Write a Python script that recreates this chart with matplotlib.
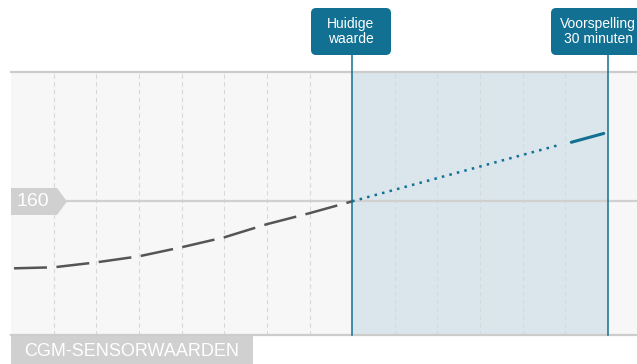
import matplotlib
matplotlib.use("Agg")
import matplotlib.pyplot as plt
from matplotlib.patches import Polygon, FancyBboxPatch, Rectangle

plt.rcParams['font.family'] = ['Liberation Sans', 'DejaVu Sans']

# Glucose history (minutes relative to now, mg/dL)
past_minutes = [-40, -35, -30, -25, -20, -15, -10, -5, 0]
past_glucose = [128.9, 129.4, 131.7, 134.5, 138.7, 143.3, 149.4, 154.5, 160.0]

# Forecast trace: dotted trend, then solid tail up to the prediction
trend_minutes = [0, 24.5]
trend_glucose = [160.0, 186.4]
tail_minutes = [25.7, 29.5]
tail_glucose = [187.4, 191.5]

reference_level = 160
now_minute = 0
forecast_minute = 30
grid_minutes = [-35, -30, -25, -20, -15, -10, -5, 5, 10, 15, 20, 25]

now_label = "Huidige\nwaarde"
forecast_label = "Voorspelling\n30 minuten"
axis_label = "CGM-SENSORWAARDEN"

W, H = 637, 364
BLUE = "#127092"
GREY_LINE = "#555555"
TAG_GREY = "#d0d0d0"

fig = plt.figure(figsize=(W / 100, H / 100), dpi=100)
fig.patch.set_facecolor("white")


def fx(px):
    return px / W


def fy(py):
    return 1 - py / H


ax = fig.add_axes([fx(11), fy(335), fx(626), 263 / H])
ax.set_facecolor("#f7f7f7")
ax.set_xlim(-40, 33.4)
ax.set_ylim(98, 220)
ax.set_xticks([])
ax.set_yticks([])
for side in ("left", "right"):
    ax.spines[side].set_visible(False)
for side in ("top", "bottom"):
    ax.spines[side].set_color("#cccccc")
    ax.spines[side].set_linewidth(1.6)

# forecast window
ax.axvspan(now_minute, forecast_minute, color="#dbe5ec", zorder=0.5, lw=0)

for m in grid_minutes:
    ax.axvline(m, color="#d6d9dc", lw=0.8, linestyle=(0, (4, 3)), zorder=1)

ax.axhline(reference_level, color="#d0d0d0", lw=1.6, zorder=1.5)

# measured values
ax.plot(past_minutes, past_glucose, color=GREY_LINE, lw=1.8,
        linestyle=(15.8, (13.2, 3.8)), solid_capstyle="butt",
        dash_capstyle="butt", zorder=3)

# predicted values
ax.plot(trend_minutes, trend_glucose, color=BLUE, lw=1.8,
        linestyle=(0, (1, 2.1)), dash_capstyle="butt", zorder=3)
ax.plot(tail_minutes, tail_glucose, color=BLUE, lw=2.2,
        solid_capstyle="round", zorder=3)

# marker lines reaching up to the label boxes
ymax = (335 - 55) / 263
for m in (now_minute, forecast_minute):
    ax.axvline(m, ymin=0, ymax=ymax, color=BLUE, lw=1.1, clip_on=False, zorder=4)


# label boxes above the plot
def label_box(left, right, text, text_cx):
    box = FancyBboxPatch((fx(left), fy(55)), fx(right - left), (55 - 8) / H,
                         boxstyle="round,pad=0,rounding_size=0.008",
                         transform=fig.transFigure, facecolor=BLUE,
                         edgecolor="none", mutation_aspect=W / H, zorder=5)
    fig.patches.append(box)
    fig.text(fx(text_cx), fy(31.5), text, color="white", fontsize=10,
             ha="center", va="center", linespacing=1.15, zorder=6)


label_box(311, 391, now_label, 351)
label_box(551, 646, forecast_label, 598)

# value tag for the reference level
tag = Polygon([(fx(11), fy(188)), (fx(57), fy(188)), (fx(67), fy(201.5)),
               (fx(57), fy(215)), (fx(11), fy(215))], closed=True,
              transform=fig.transFigure, facecolor=TAG_GREY, edgecolor="none",
              zorder=5)
fig.patches.append(tag)
fig.text(fx(16), fy(202), str(reference_level), color="white", fontsize=14,
         ha="left", va="center", zorder=6)

# axis caption
fig.patches.append(Rectangle((fx(11), 0), fx(242), fy(335.5),
                             transform=fig.transFigure, facecolor=TAG_GREY,
                             edgecolor="none", zorder=5))
fig.text(fx(132), fy(351), axis_label, color="white", fontsize=13,
         ha="center", va="center", zorder=6)

fig.savefig("out.png", dpi=100)
